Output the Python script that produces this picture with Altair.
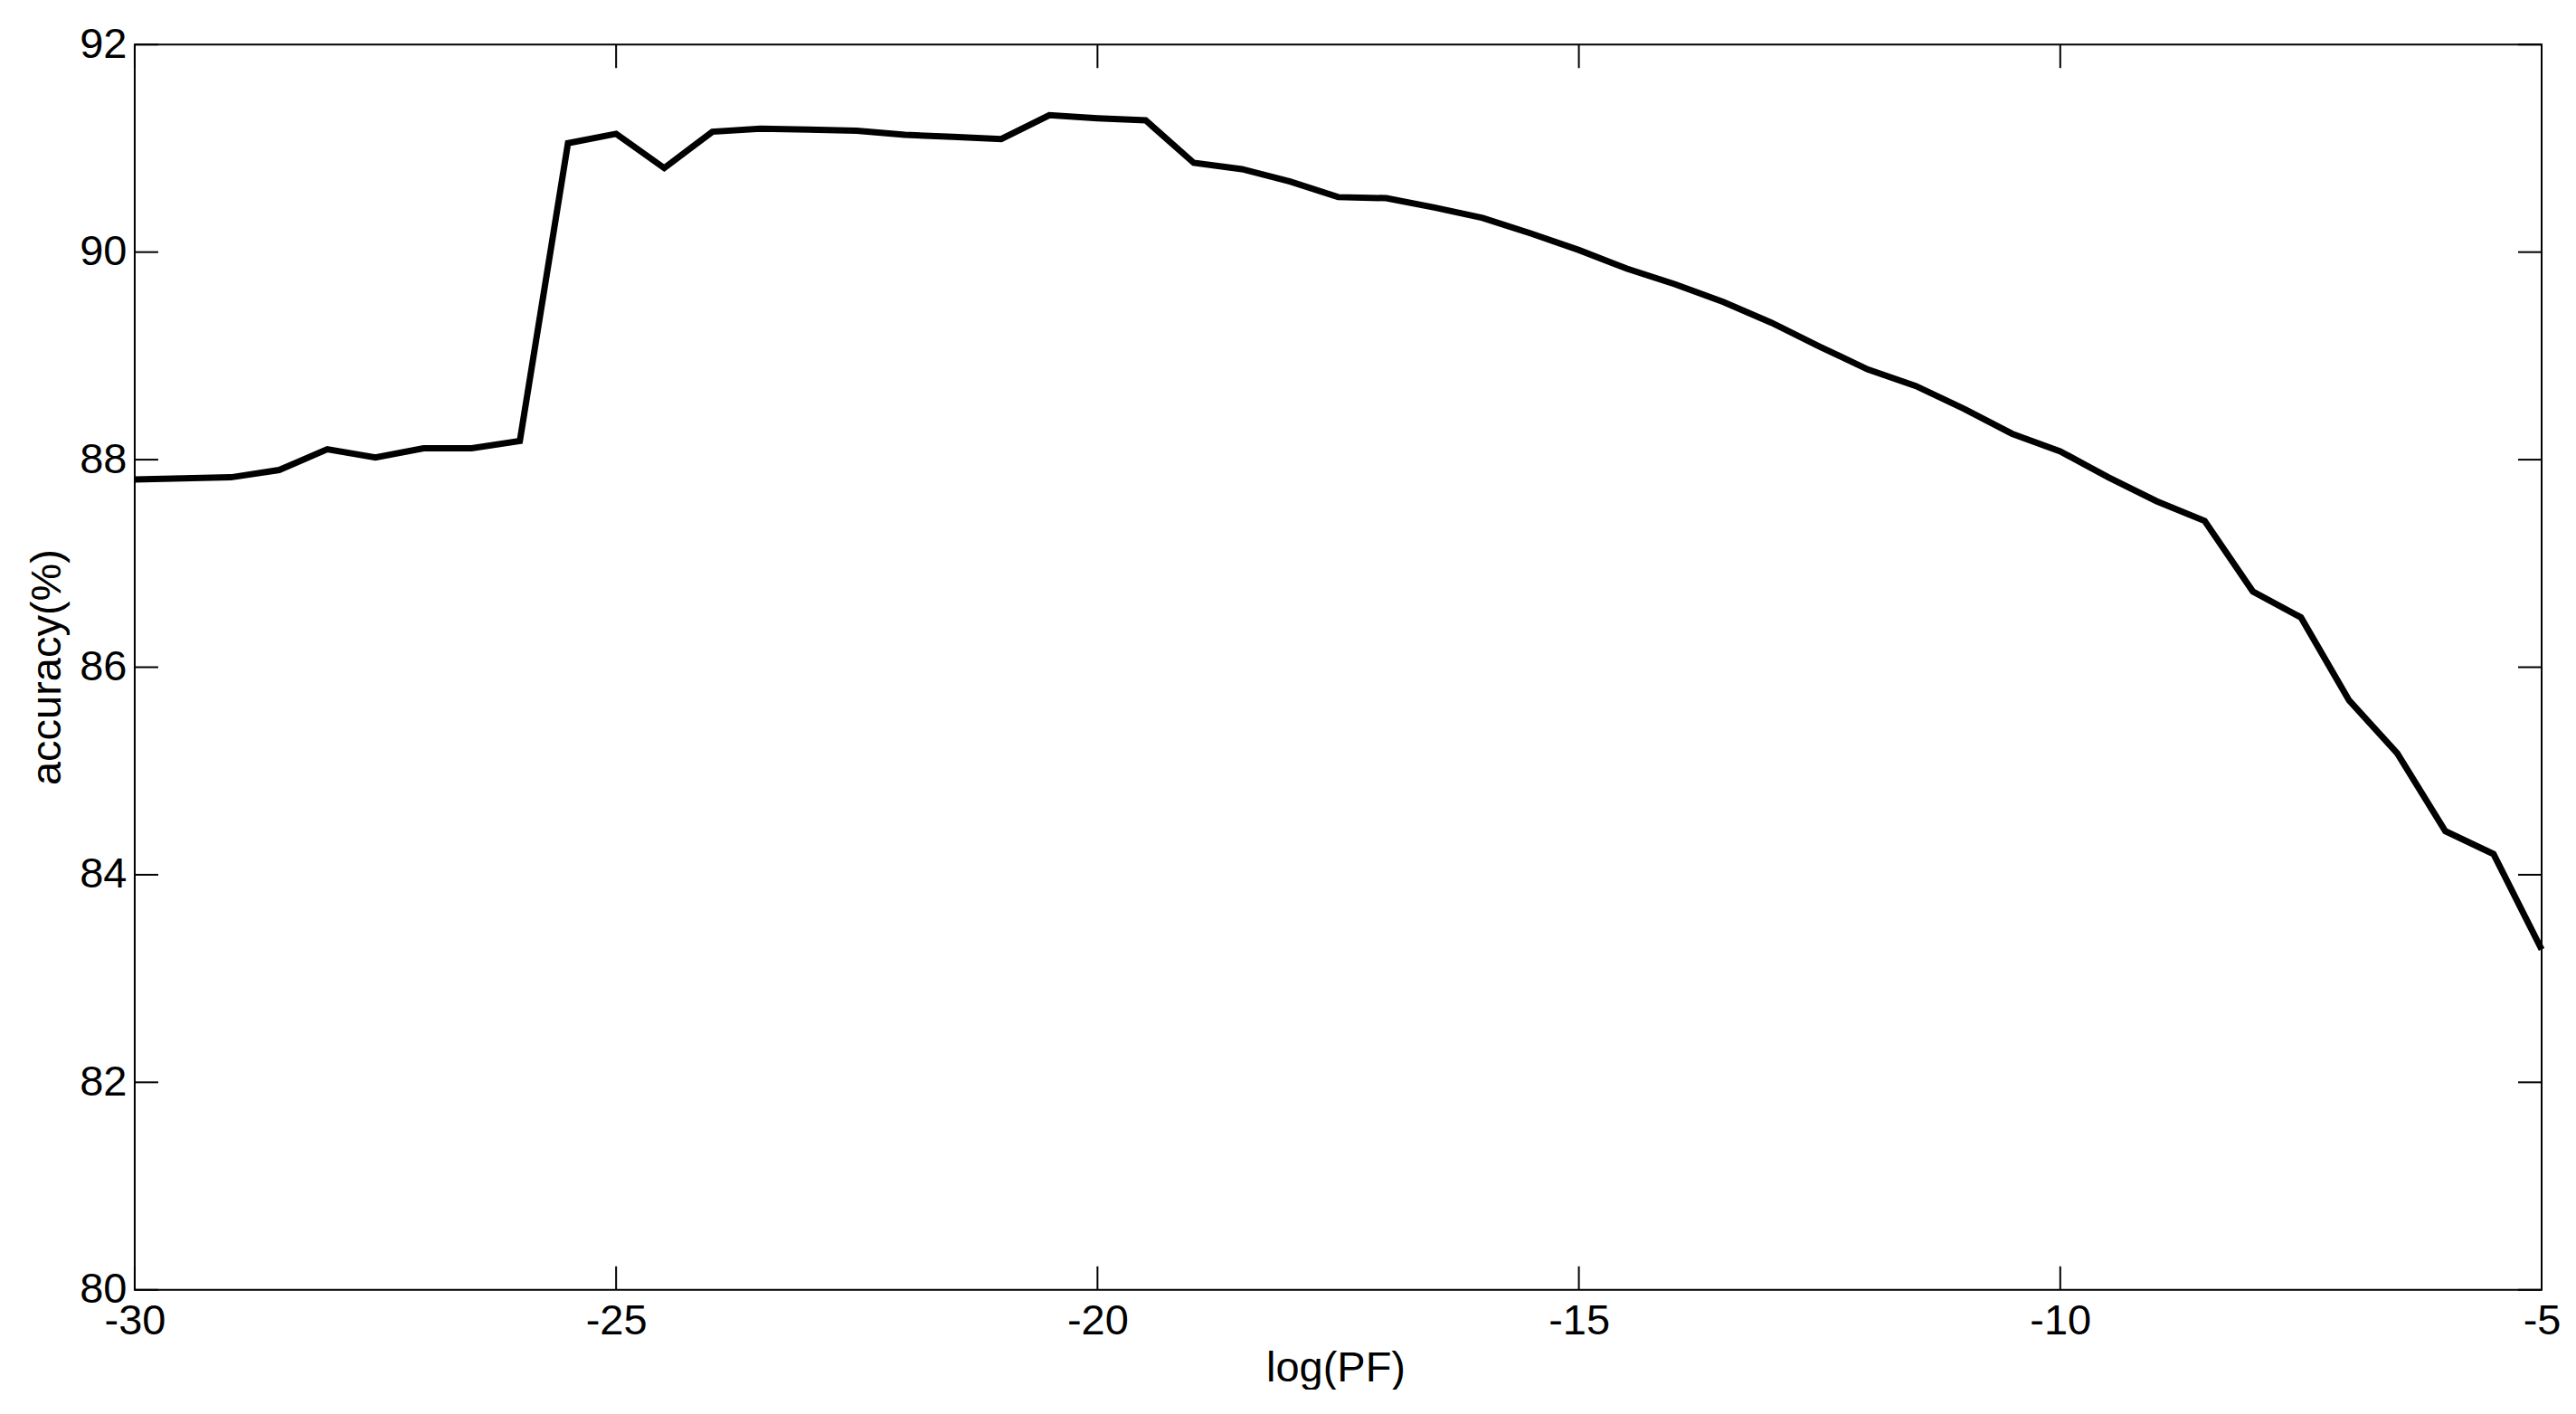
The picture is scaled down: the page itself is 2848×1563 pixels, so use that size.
import altair as alt
import pandas as pd

# data
log_pf = [-30, -29.5, -29, -28.5, -28, -27.5, -27, -26.5, -26, -25.5,
          -25, -24.5, -24, -23.5, -23, -22.5, -22, -21.5, -21, -20.5,
          -20, -19.5, -19, -18.5, -18, -17.5, -17, -16.5, -16, -15.5,
          -15, -14.5, -14, -13.5, -13, -12.5, -12, -11.5, -11, -10.5,
          -10, -9.5, -9, -8.5, -8, -7.5, -7, -6.5, -6, -5.5, -5]
accuracy = [87.81, 87.82, 87.83, 87.90, 88.10, 88.02, 88.11, 88.11, 88.18, 91.05,
            91.14, 90.81, 91.16, 91.19, 91.18, 91.17, 91.13, 91.11, 91.09, 91.32,
            91.29, 91.27, 90.86, 90.80, 90.68, 90.53, 90.52, 90.43, 90.33, 90.18,
            90.02, 89.84, 89.69, 89.52, 89.32, 89.09, 88.87, 88.71, 88.49, 88.25,
            88.08, 87.83, 87.60, 87.41, 86.73, 86.48, 85.68, 85.17, 84.42, 84.20, 83.28]
x_ticks = [-30, -25, -20, -15, -10, -5]
y_ticks = [80, 82, 84, 86, 88, 90, 92]

W, H = 2662, 1377
TICK = 26
FONT = "Liberation Sans"

df = pd.DataFrame({"logPF": log_pf, "acc": accuracy})
dfx = pd.DataFrame({"t": x_ticks})
dfy = pd.DataFrame({"t": y_ticks})

xscale = alt.Scale(domain=[-30, -5], nice=False, zero=False)
yscale = alt.Scale(domain=[80, 92], nice=False, zero=False)

xaxis = alt.Axis(title="log(PF)", values=x_ticks, labelExpr="'' + datum.value",
                 ticks=False, tickSize=0, domain=False, grid=False,
                 labelFlush=False, labelOverlap=False, labelPadding=12, labelFont=FONT,
                 labelFontSize=47, labelColor="black", labelFontWeight="normal",
                 titleFont=FONT, titleFontSize=47, titleColor="black",
                 titleFontWeight="normal", titleBaseline="alphabetic",
                 titleX=1328, titleY=101)
yaxis = alt.Axis(title="accuracy(%)", values=y_ticks, labelExpr="'' + datum.value",
                 ticks=False, tickSize=0, domain=False, grid=False,
                 labelFlush=False, labelOverlap=False, labelPadding=9, labelFont=FONT,
                 labelFontSize=47, labelColor="black",
                 titleFont=FONT, titleFontSize=47, titleColor="black",
                 titleFontWeight="normal", titleBaseline="alphabetic",
                 titleAngle=270, titleX=-82, titleY=688)

line = alt.Chart(df).mark_line(color="black", strokeWidth=7).encode(
    x=alt.X("logPF:Q", scale=xscale, axis=xaxis),
    y=alt.Y("acc:Q", scale=yscale, axis=yaxis),
)

tick_style = dict(color="black", strokeWidth=2)
xt_bottom = alt.Chart(dfx).mark_rule(**tick_style).encode(
    x=alt.X("t:Q", scale=xscale, axis=xaxis),
    y=alt.value(H), y2=alt.value(H - TICK))
xt_top = alt.Chart(dfx).mark_rule(**tick_style).encode(
    x=alt.X("t:Q", scale=xscale, axis=xaxis),
    y=alt.value(0), y2=alt.value(TICK))
yt_left = alt.Chart(dfy).mark_rule(**tick_style).encode(
    y=alt.Y("t:Q", scale=yscale, axis=yaxis),
    x=alt.value(0), x2=alt.value(TICK))
yt_right = alt.Chart(dfy).mark_rule(**tick_style).encode(
    y=alt.Y("t:Q", scale=yscale, axis=yaxis),
    x=alt.value(W - TICK), x2=alt.value(W))

chart = alt.layer(line, xt_bottom, xt_top, yt_left, yt_right).properties(
    width=W, height=H,
    autosize=alt.AutoSizeParams(type="none"),
    padding={"left": 141, "top": 41, "right": 30, "bottom": 110},
    background="white",
).configure_view(stroke="black", strokeWidth=2)

chart.save("out.html", embed_options={"renderer": "svg", "actions": False})
